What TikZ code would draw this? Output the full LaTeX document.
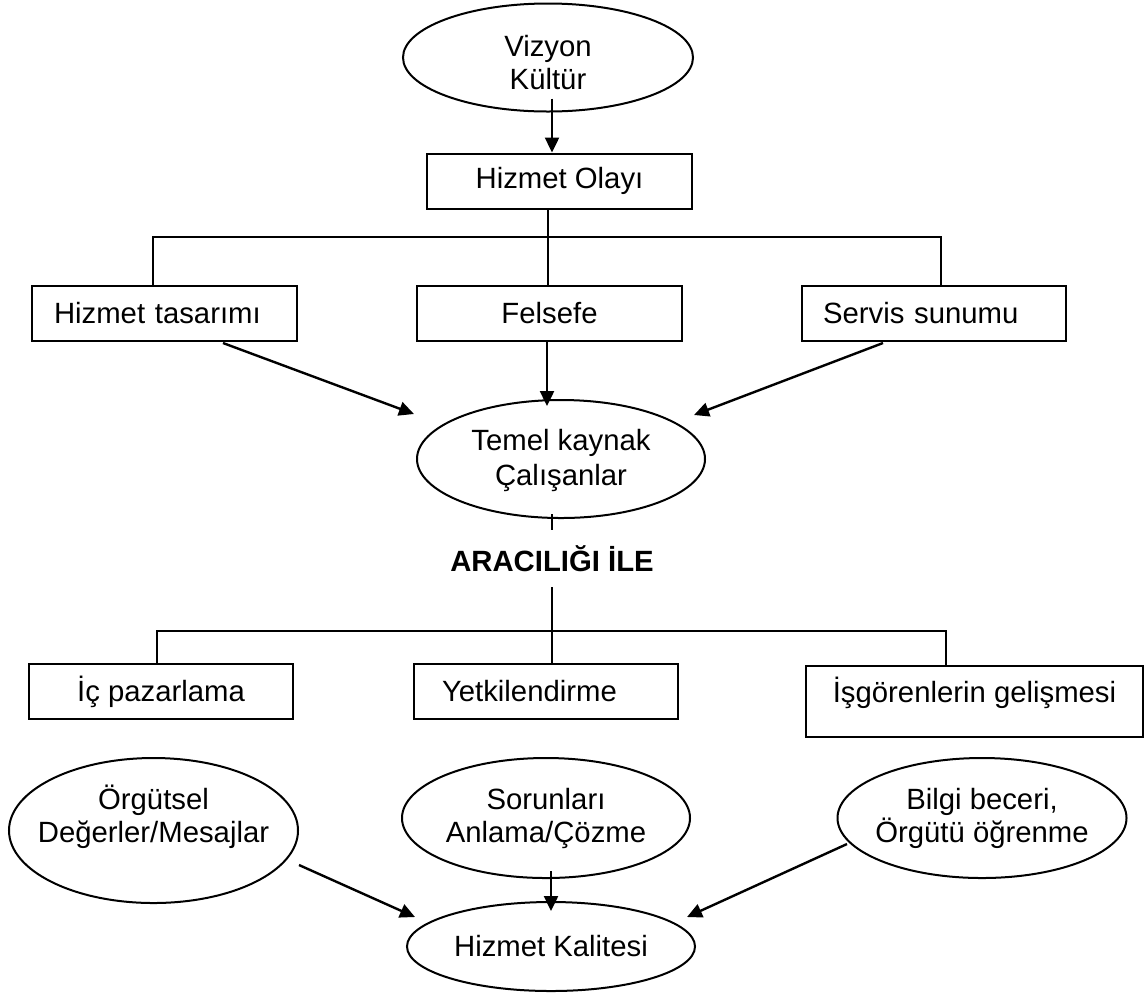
\documentclass[tikz,border=0pt]{standalone}
\usepackage{fontspec}
\setmainfont{Liberation Sans}
\usetikzlibrary{shapes.geometric,arrows.meta}

\begin{document}
\begin{tikzpicture}[x=0.5pt,y=-0.5pt,line width=1pt,
		font=\fontsize{14.65}{16.5}\selectfont,
		box/.style={draw, rectangle, minimum height=27.5pt, inner sep=0pt},
		lbox/.style={box, align=left, inner xsep=11pt, text width=110.5pt},
		oval/.style={draw, ellipse, align=center, inner xsep=-20pt, inner ysep=-6pt},
		arr/.style={line width=1.2pt, -{Triangle[length=7.5pt,width=7pt]}}]
		\useasboundingbox (0,0) rectangle (1144,992);

		\draw (548,57.5) node[oval, minimum width=145pt, minimum height=54pt, text height=32pt] (A) {Vizyon\\Kültür};
		\draw (559.5,181) node[box, minimum width=132.5pt] (B) {Hizmet Olayı};
		\draw (164.5,313.5) node[lbox] (C) {Hizmet tasarımı};
		\draw (549.5,313.5) node[box, minimum width=132.5pt] (D) {Felsefe};
		\draw (934,313.5) node[lbox, inner xsep=10.5pt, text width=111pt] (E) {Servis sunumu};
		\draw (561,459) node[oval, minimum width=144pt, minimum height=59pt, text height=30pt] (F) {Temel kaynak\\[1pt]Çalışanlar};
		\draw (552,558.5) node[inner sep=0pt, minimum height=27.5pt, font=\fontsize{14.65}{16.5}\selectfont\bfseries] (G) {ARACILIĞI İLE};
		\draw (161,691.5) node[box, minimum width=132pt] (H) {İç pazarlama};
		\draw (546,691.5) node[lbox, inner xsep=14pt, text width=104pt] (I) {Yetkilendirme};
		\draw (974.5,701.5) node[box, minimum width=168.5pt, minimum height=35.5pt, text depth=12pt] (J) {İşgörenlerin gelişmesi};
		\draw (153.5,830.5) node[oval, minimum width=144.5pt, minimum height=72.5pt, text depth=17pt] (K) {Örgütsel\\Değerler/Mesajlar};
		\draw (546,818) node[oval, minimum width=144pt, minimum height=60pt] (L) {Sorunları\\Anlama/Çözme};
		\draw (982,818) node[oval, minimum width=144.5pt, minimum height=60pt] (M) {Bilgi beceri,\\Örgütü öğrenme};
		\draw (551,946.5) node[oval, minimum width=144pt, minimum height=44.5pt] (N) {Hizmet Kalitesi};

		\draw ([xshift=-6pt]B.south) -- ([xshift=-6pt]B.south |- D.north);
		\draw ([xshift=-5.75pt]C.north) -- ++(0,-48) -| ([xshift=3.5pt]E.north);
		\draw ([xshift=-4.5pt,yshift=2.5pt]F.south) -- (G.north);
		\draw (G.south) -- ([xshift=3pt]I.north);
		\draw ([xshift=-2pt]H.north) -- ++(0,-32) -| ([xshift=-14.25pt]J.north);

		\path[arr]
		([xshift=2pt,yshift=7pt]A.south) edge ([xshift=-3.75pt]B.north)
		([xshift=29.25pt,yshift=-0.5pt]C.south) edge ([xshift=-1pt,yshift=22.5pt]F.west)
		([xshift=-1.25pt]D.south) edge ([xshift=-7pt,yshift=-3.5pt]F.north)
		([xshift=-25.5pt,yshift=-0.5pt]E.south) edge ([xshift=-6pt,yshift=22pt]F.east)
		([yshift=-17.25pt]K.east) edge ([xshift=4.5pt,yshift=14.75pt]N.west)
		([xshift=2.5pt,yshift=4pt]L.south) edge ([yshift=-5pt]N.north)
		([xshift=5.25pt,yshift=-13pt]M.west) edge ([xshift=-4.5pt,yshift=14.75pt]N.east)
		;
	\end{tikzpicture}
\end{document}
